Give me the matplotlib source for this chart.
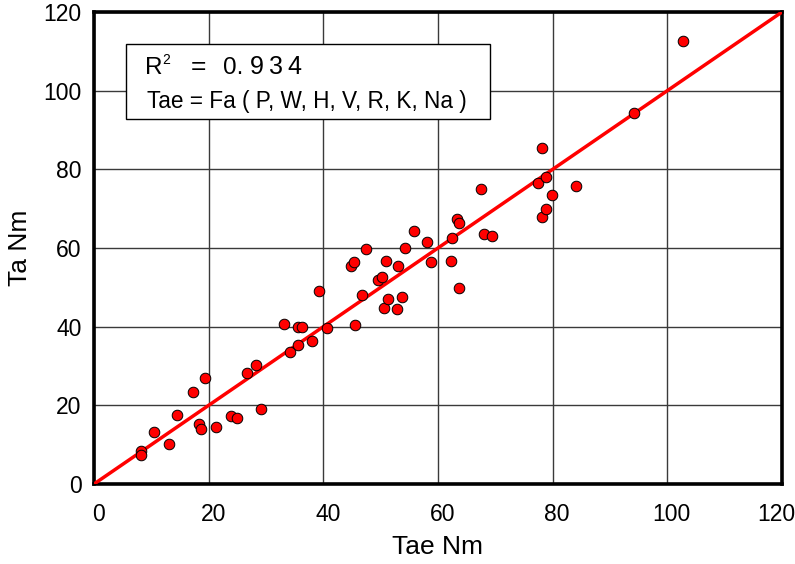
import matplotlib
matplotlib.use("Agg")
import matplotlib.pyplot as plt
from matplotlib.patches import Rectangle
from matplotlib.transforms import ScaledTranslation

plt.rcParams['font.family'] = ['Liberation Sans', 'Noto Sans CJK JP', 'DejaVu Sans']

# Estimated torque (x) vs. actual torque (y)
tae = [8.2, 8.2, 10.4, 13.1, 14.5, 17.2, 18.3, 18.6, 19.3, 21.3, 23.9, 24.9,
       26.6, 28.3, 29.2, 33.1, 34.1, 35.6, 35.6, 36.3, 38.0, 39.2, 40.6, 44.9,
       45.4, 45.5, 46.7, 47.4, 49.6, 50.2, 50.6, 51.0, 51.3, 52.8, 53.0, 53.8,
       54.2, 55.9, 58.0, 58.8, 62.2, 62.4, 63.3, 63.7, 63.7, 67.5, 68.0, 69.5,
       77.4, 78.2, 78.2, 78.9, 78.9, 79.9, 84.0, 94.1, 102.7]
ta = [8.5, 7.4, 13.3, 10.2, 17.5, 23.3, 15.2, 14.0, 26.9, 14.4, 17.2, 16.9,
      28.2, 30.3, 19.1, 40.6, 33.6, 35.3, 40.0, 40.0, 36.4, 49.1, 39.7, 55.5,
      56.4, 40.3, 48.1, 59.7, 51.9, 52.7, 44.8, 56.6, 47.1, 44.5, 55.5, 47.6,
      60.0, 64.3, 61.5, 56.5, 56.6, 62.6, 67.5, 66.4, 49.8, 75.0, 63.6, 63.0,
      76.4, 85.3, 68.0, 78.1, 69.8, 73.6, 75.7, 94.4, 112.6]

ticks = [0, 20, 40, 60, 80, 100, 120]
ref_line = [0, 120]
r2_text = ['R', '2', '=', '0.', '9', '3', '4']
model_text = 'Tae = Fa ( P, W, H, V, R, K, Na )'

W, H = 795, 564
fig = plt.figure(figsize=(W / 100, H / 100), dpi=100)
ax = fig.add_axes([94 / W, 1 - 484 / H, (782 - 94) / W, (484 - 12) / H])

ax.set_xlim(0, 120)
ax.set_ylim(0, 120)
ax.set_xticks(ticks)
ax.set_yticks(ticks)
ax.grid(True, color='#3a3a3a', linewidth=1.0)
ax.set_axisbelow(True)

ax.plot(ref_line, ref_line, color='#ff0000', linewidth=2.5, zorder=3,
        solid_capstyle='butt')
ax.scatter(tae, ta, s=58, facecolor='#ff0000', edgecolor='#000000',
           linewidth=0.7, zorder=4, clip_on=False)

for sp in ax.spines.values():
    sp.set_linewidth(2.6)
    sp.set_color('black')

ax.tick_params(axis='both', length=0, labelsize=16.5, colors='black')
ax.tick_params(axis='x', pad=14)
ax.tick_params(axis='y', pad=9)

# shift x tick labels slightly right; keep the last one inside the figure
fig.canvas.draw()
xlabels = ax.get_xticklabels()
for i, lab in enumerate(xlabels):
    dx = 4.5 if i < len(xlabels) - 1 else -6
    lab.set_transform(lab.get_transform() + ScaledTranslation(dx / 100, 0, fig.dpi_scale_trans))

ax.set_xlabel('Tae Nm', fontsize=19, labelpad=6)
ax.set_ylabel('Ta Nm', fontsize=19, labelpad=8)

# Annotation box with fit statistic and model form
box = Rectangle((126 / W, 1 - 119 / H), (490 - 126) / W, (119 - 44) / H,
                transform=fig.transFigure, facecolor='white', edgecolor='black',
                linewidth=1.0, zorder=5)
fig.patches.append(box)

def put(x, y, s, size, ha='left'):
    fig.text(x / W, 1 - y / H, s, fontsize=size, va='baseline', ha=ha, zorder=6)

put(145, 74, r2_text[0], 17.5)
put(162.5, 64, r2_text[1], 10)
put(198, 74, r2_text[2], 19, ha='center')
put(223, 74, r2_text[3], 17.5)
put(250, 74, r2_text[4], 18)
put(268.5, 74, r2_text[5], 18)
put(287, 74, r2_text[6], 18)
put(147, 108, model_text, 16.3)

fig.savefig('out.png', dpi=100)
